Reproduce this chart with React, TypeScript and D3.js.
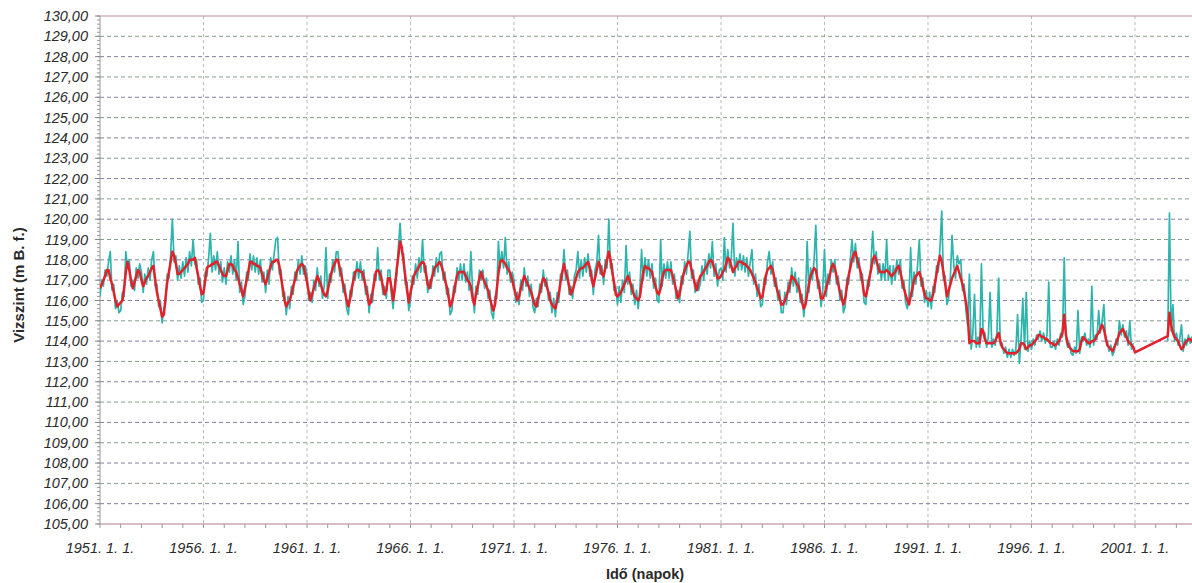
import * as d3 from "d3";

// monthly readings, 1951-01 .. 2001-01 (last value is Jan 2001)
const redLevels = [
  116.6, 116.8, 117.0, 117.2, 117.5, 117.5, 117.1, 116.8, 116.4, 116.0, 115.7, 115.8,
  115.9, 116.0, 116.6, 117.4, 117.9, 117.5, 117.0, 116.6, 116.9, 117.2, 117.5, 117.4,
  117.0, 116.7, 116.9, 117.1, 117.2, 117.4, 117.6, 117.7, 117.0, 116.4, 116.0, 115.6,
  115.2, 115.3, 116.1, 116.9, 117.4, 117.9, 118.4, 118.2, 117.8, 117.3, 117.3, 117.4,
  117.5, 117.6, 117.7, 117.8, 118.0, 118.0, 118.0, 118.1, 117.6, 117.2, 116.7, 116.3,
  116.4, 117.0, 117.6, 117.7, 117.7, 117.8, 117.8, 117.9, 117.9, 117.7, 117.5, 117.3,
  117.2, 117.2, 117.5, 117.8, 117.8, 117.7, 117.5, 117.4, 117.1, 116.8, 116.5, 116.2,
  116.6, 117.0, 117.4, 117.9, 117.9, 117.8, 117.8, 117.7, 117.7, 117.6, 117.3, 117.0,
  116.8, 117.1, 117.4, 117.7, 117.9, 117.9, 118.0, 118.0, 117.7, 117.1, 116.6, 116.0,
  115.7, 115.9, 116.0, 116.3, 116.7, 117.0, 117.4, 117.6, 117.7, 117.8, 117.7, 117.3,
  116.9, 116.4, 116.0, 116.3, 116.6, 116.9, 117.2, 117.0, 116.8, 116.5, 116.3, 116.2,
  116.5, 116.9, 117.3, 117.6, 117.8, 118.0, 118.0, 117.6, 117.2, 116.8, 116.4, 116.0,
  115.7, 116.1, 116.6, 117.0, 117.4, 117.5, 117.5, 117.4, 117.4, 117.1, 116.7, 116.3,
  115.8, 115.9, 116.4, 116.9, 117.4, 117.5, 117.4, 117.1, 116.7, 116.3, 116.5, 117.1,
  117.1, 116.6, 116.0, 116.6, 117.5, 118.2, 118.9, 118.6, 117.9, 117.2, 116.5, 115.9,
  116.4, 116.8, 117.2, 117.4, 117.5, 117.7, 117.8, 117.9, 117.8, 117.3, 116.8, 116.6,
  117.0, 117.3, 117.6, 117.7, 117.8, 117.9, 117.7, 117.4, 117.0, 116.7, 116.2, 115.7,
  115.9, 116.3, 116.8, 117.2, 117.4, 117.4, 117.4, 117.4, 117.2, 117.0, 116.9, 116.7,
  116.1, 115.8, 116.3, 116.7, 117.1, 117.4, 117.1, 116.9, 116.7, 116.5, 116.1, 115.8,
  115.5, 115.8, 116.5, 117.3, 117.9, 118.0, 117.9, 117.8, 117.6, 117.5, 117.3, 117.0,
  116.6, 116.3, 116.0, 116.2, 116.6, 116.9, 117.2, 117.0, 116.8, 116.6, 116.4, 116.1,
  115.8, 115.7, 116.1, 116.4, 116.8, 117.1, 117.0, 116.7, 116.4, 116.0, 115.8, 115.7,
  115.6, 116.0, 116.3, 116.9, 117.4, 117.8, 117.4, 117.1, 116.7, 116.3, 116.5, 116.8,
  117.1, 117.4, 117.5, 117.6, 117.6, 117.7, 117.8, 117.9, 117.6, 117.1, 116.7, 117.1,
  117.5, 117.9, 117.7, 117.3, 117.2, 117.6, 118.0, 118.4, 118.0, 117.4, 116.9, 116.3,
  116.2, 116.3, 116.4, 116.6, 116.8, 117.0, 117.2, 117.0, 116.7, 116.4, 116.2, 116.1,
  116.0, 116.2, 116.8, 117.4, 117.7, 117.6, 117.6, 117.5, 117.4, 117.0, 116.7, 116.4,
  116.3, 116.6, 117.1, 117.4, 117.5, 117.5, 117.5, 117.5, 117.2, 116.9, 116.5, 116.1,
  116.3, 116.8, 117.2, 117.5, 117.7, 117.9, 117.9, 117.5, 117.1, 116.8, 116.5, 116.9,
  117.2, 117.3, 117.4, 117.6, 117.7, 117.9, 118.0, 117.9, 117.6, 117.4, 117.1, 117.1,
  117.2, 117.4, 117.5, 117.8, 118.1, 118.0, 117.7, 117.4, 117.6, 117.7, 117.9, 117.9,
  117.9, 117.8, 117.8, 117.7, 117.6, 117.5, 117.3, 117.1, 116.9, 116.6, 116.4, 116.1,
  116.2, 116.7, 117.2, 117.5, 117.6, 117.7, 117.5, 117.1, 116.7, 116.4, 116.1, 115.8,
  115.8, 116.0, 116.2, 116.5, 116.8, 117.2, 117.1, 117.0, 116.8, 116.7, 116.3, 115.9,
  115.6, 115.8, 116.3, 116.8, 117.2, 117.4, 117.6, 117.5, 117.0, 116.6, 116.1, 116.1,
  116.3, 116.6, 116.9, 117.2, 117.6, 117.8, 117.6, 117.2, 116.8, 116.4, 116.1, 115.8,
  116.1, 116.7, 117.2, 117.6, 118.0, 118.3, 118.4, 118.0, 117.7, 117.4, 116.9, 116.3,
  116.2, 116.6, 117.1, 117.5, 118.0, 118.2, 118.0, 117.7, 117.4, 117.4, 117.4, 117.4,
  117.5, 117.4, 117.3, 117.2, 117.3, 117.4, 117.6, 117.7, 117.4, 117.0, 116.6, 116.3,
  116.0, 115.8, 116.2, 116.6, 117.0, 117.2, 117.3, 117.4, 117.1, 116.7, 116.3, 116.1,
  116.1, 116.0, 116.0, 116.3, 116.8, 117.3, 117.8, 118.2, 117.9, 117.4, 116.8, 116.2,
  116.5, 116.8, 117.1, 117.3, 117.5, 117.7, 117.4, 117.1, 116.8, 116.4, 115.9, 115.3,
  113.9, 114.0, 114.0, 114.0, 113.9, 113.9, 113.9, 114.6, 114.5, 114.1, 113.9, 113.9,
  113.9, 113.9, 113.9, 114.0, 114.2, 114.4, 114.0, 113.7, 113.6, 113.5, 113.4, 113.4,
  113.4, 113.4, 113.4, 113.4, 113.5, 113.6, 113.9, 113.9, 113.8, 113.6, 113.7, 113.8,
  113.8, 113.9, 114.0, 114.1, 114.3, 114.3, 114.2, 114.2, 114.1, 114.1, 114.0, 113.9,
  113.9, 113.8, 113.8, 113.9, 114.0, 114.2, 114.4, 115.3, 114.3, 113.9, 113.7, 113.6,
  113.5, 113.5, 113.5, 113.5, 113.6, 114.0, 114.2, 114.1, 114.0, 113.9, 113.9, 114.0,
  114.0, 114.1, 114.3, 114.4, 114.6, 114.8, 114.6, 114.2, 113.8, 113.7, 113.6, 113.5,
  113.7, 113.9, 114.1, 114.4, 114.5, 114.6, 114.4, 114.2, 114.0, 113.9, 113.8, 113.7,
  113.45,
];

// monthly readings, 1951-01 .. 2000-12
const cyanLevels = [
  116.2, 117.0, 116.7, 117.5, 117.2, 117.9, 118.4, 116.5, 116.8, 115.6, 116.0, 115.4,
  115.5, 116.4, 116.2, 118.4, 117.6, 118.0, 116.7, 117.0, 116.5, 117.6, 117.1, 117.8,
  117.4, 116.4, 117.3, 116.8, 117.6, 117.0, 118.0, 118.4, 116.7, 116.8, 115.7, 116.0,
  114.9, 115.6, 115.8, 117.3, 117.1, 118.3, 120.0, 117.9, 118.2, 117.0, 117.7, 117.1,
  117.9, 117.2, 118.1, 117.4, 118.4, 117.7, 119.0, 117.8, 118.0, 116.8, 117.1, 115.9,
  116.0, 117.4, 117.2, 118.1, 119.3, 117.4, 118.2, 117.5, 118.4, 117.3, 117.9, 116.9,
  117.6, 116.8, 117.9, 117.4, 118.2, 117.3, 118.0, 117.0, 118.9, 116.4, 116.9, 115.8,
  116.2, 117.4, 117.0, 118.3, 117.5, 118.2, 117.4, 118.1, 117.3, 118.0, 116.9, 117.4,
  116.4, 117.5, 116.8, 118.1, 117.5, 118.3, 119.0, 119.1, 117.3, 117.5, 116.2, 116.4,
  115.3, 116.2, 115.6, 116.7, 116.3, 117.4, 117.0, 118.0, 117.3, 118.2, 117.3, 117.7,
  117.3, 116.0, 116.4, 115.9, 117.0, 116.5, 117.6, 116.7, 117.2, 116.1, 116.7, 118.6,
  116.1, 117.3, 116.9, 118.0, 117.4, 118.4, 118.4, 117.2, 117.6, 116.4, 116.8, 115.6,
  115.3, 116.5, 116.2, 117.4, 117.0, 117.9, 117.1, 117.9, 117.0, 117.5, 116.3, 116.7,
  115.4, 116.3, 115.9, 117.3, 117.0, 118.6, 117.0, 117.5, 116.3, 116.7, 116.1, 117.5,
  117.5, 116.2, 115.6, 117.0, 117.2, 118.6, 119.8, 118.3, 118.3, 116.8, 116.9, 115.5,
  116.0, 117.2, 116.8, 117.8, 117.1, 118.1, 117.4, 119.0, 117.4, 117.7, 116.4, 117.0,
  116.6, 117.7, 117.2, 118.1, 117.4, 118.3, 118.4, 117.0, 117.4, 116.3, 116.6, 115.3,
  115.5, 116.7, 116.4, 117.6, 117.0, 117.8, 117.0, 117.8, 116.9, 117.4, 116.5, 118.4,
  116.5, 115.4, 116.7, 116.3, 117.5, 117.0, 117.5, 116.6, 117.1, 116.1, 116.5, 115.4,
  115.1, 116.2, 116.1, 118.9, 117.6, 118.4, 117.6, 119.1, 117.3, 117.9, 116.9, 117.4,
  117.0, 115.9, 116.4, 115.8, 117.0, 116.5, 117.6, 116.7, 117.2, 116.2, 116.8, 115.7,
  115.4, 116.1, 115.7, 116.8, 116.4, 117.5, 116.7, 117.1, 116.0, 116.4, 115.4, 116.1,
  115.2, 116.4, 115.9, 117.3, 117.0, 118.5, 117.0, 117.5, 116.3, 116.7, 116.1, 117.2,
  117.5, 118.4, 117.1, 118.0, 117.2, 118.1, 117.4, 118.3, 117.2, 117.5, 116.3, 117.5,
  117.9, 119.2, 117.3, 117.7, 116.8, 118.0, 117.6, 120.0, 117.6, 117.8, 116.5, 116.7,
  115.8, 116.7, 115.9, 117.0, 116.4, 118.7, 116.8, 117.4, 116.3, 116.8, 115.8, 116.5,
  115.6, 116.6, 118.5, 117.0, 118.1, 117.2, 118.0, 117.1, 117.8, 116.6, 117.1, 116.0,
  115.9, 119.0, 116.7, 117.8, 117.1, 117.9, 117.1, 117.9, 116.8, 117.3, 116.1, 116.5,
  115.9, 117.2, 116.8, 117.9, 117.3, 118.3, 119.4, 117.1, 117.5, 116.4, 116.9, 116.5,
  116.8, 117.7, 117.0, 118.0, 117.3, 118.3, 117.6, 118.9, 117.2, 117.8, 116.7, 117.5,
  117.6, 117.0, 119.1, 117.4, 118.5, 117.6, 118.1, 119.8, 117.2, 118.1, 117.5, 118.3,
  117.5, 118.2, 117.4, 118.1, 117.2, 117.9, 118.5, 116.8, 117.3, 116.2, 116.8, 115.7,
  115.8, 117.1, 116.8, 117.9, 118.4, 117.3, 117.9, 116.7, 117.1, 116.0, 116.5, 115.4,
  115.4, 116.4, 115.8, 116.9, 116.4, 117.6, 116.7, 117.4, 116.4, 117.1, 115.9, 116.3,
  115.2, 116.2, 118.9, 116.4, 117.6, 117.0, 118.0, 119.7, 116.6, 117.0, 115.7, 116.5,
  118.5, 116.2, 117.3, 116.8, 118.0, 117.4, 118.0, 116.8, 117.2, 116.0, 116.5, 115.4,
  115.7, 117.1, 116.8, 118.0, 119.0, 117.9, 118.8, 117.6, 118.1, 117.0, 117.3, 115.9,
  115.8, 117.0, 116.7, 117.9, 119.4, 117.8, 118.4, 117.3, 117.8, 117.0, 117.8, 117.0,
  119.0, 117.0, 117.7, 116.8, 117.7, 117.0, 118.0, 117.3, 118.0, 116.6, 117.0, 115.9,
  115.6, 116.2, 118.6, 116.2, 117.4, 116.8, 117.7, 119.0, 116.7, 117.1, 115.9, 116.5,
  115.7, 116.4, 115.6, 116.7, 116.4, 117.7, 117.4, 118.6, 120.4, 117.0, 117.2, 115.8,
  116.1, 117.2, 119.2, 117.7, 117.1, 118.2, 117.8, 118.0, 116.5, 116.8, 115.5, 114.8,
  117.3, 113.6, 114.3, 116.3, 113.7, 114.2, 113.7, 117.8, 114.3, 114.4, 113.7, 114.2,
  116.4, 113.7, 114.1, 113.8, 114.4, 117.1, 113.8, 113.9, 113.4, 113.7, 113.2, 113.6,
  113.2, 113.6, 113.3, 113.6, 115.3, 112.9, 114.1, 116.1, 113.6, 116.4, 113.5, 114.0,
  113.6, 114.1, 113.8, 114.3, 114.1, 114.5, 114.0, 114.4, 113.9, 114.3, 116.9, 113.7,
  113.7, 114.0, 113.6, 114.1, 113.8, 114.4, 114.2, 118.1, 114.1, 113.7, 113.9, 113.4,
  113.3, 113.7, 113.4, 115.5, 113.4, 114.2, 114.0, 114.4, 113.8, 114.1, 113.7, 116.7,
  113.8, 114.3, 114.1, 115.5, 114.4, 115.0, 115.8, 114.0, 114.0, 113.5, 113.8, 113.3,
  113.5, 114.1, 113.8, 115.0, 114.3, 114.8, 114.2, 114.5, 113.8, 115.0, 113.6, 113.9,
];

// monthly readings after the data gap, 2002-08 .. 2003-12
const redLate = [
  114.25, 115.4, 114.8, 114.4, 114.2, 114.1, 114.0, 113.8, 113.6, 113.7, 113.9, 114.0,
  114.1, 114.1, 114.0, 113.9, 113.9,
];
const cyanLate = [
  114.0, 120.3, 114.5, 115.8, 114.0, 114.4, 113.8, 114.1, 114.8, 113.5, 114.1, 113.8,
  114.3, 113.9, 114.2, 113.7, 114.1,
];

const startMain = new Date(1951, 0, 1);
const startLate = new Date(2002, 7, 1);
const labelYears = [1951, 1956, 1961, 1966, 1971, 1976, 1981, 1986, 1991, 1996, 2001];

const W = 1192;
const H = 583;
const left = 100;
const top = 16;
const bottom = 524;

type Pt = { d: Date; v: number };

const toPoints = (start: Date, values: number[]): Pt[] =>
  values.map((v, i) => ({ d: d3.timeMonth.offset(start, i), v }));

export default function App() {
  const x = d3
    .scaleTime()
    .domain([new Date(1951, 0, 1), new Date(2001, 0, 1)])
    .range([left, 1135]);
  const y = d3.scaleLinear().domain([105, 130]).range([bottom, top]);

  const line = d3
    .line<Pt>()
    .x((p) => x(p.d))
    .y((p) => y(p.v));

  const redPts = [...toPoints(startMain, redLevels), ...toPoints(startLate, redLate)];
  const cyanMain = toPoints(startMain, cyanLevels);
  const cyanTail = toPoints(startLate, cyanLate);

  const majorY = d3.range(105, 131, 1);
  const minorY = d3.range(0, 126).map((i) => 105 + i * 0.2);
  const yearTicks = d3.timeYear.range(new Date(1951, 0, 1), new Date(2004, 0, 1));
  const fmt = d3.format(".2f");

  return (
    <svg
      width={W}
      height={H}
      style={{ position: "absolute", left: 0, top: 0, display: "block", background: "#fff" }}
    >
      <defs>
        <clipPath id="plot">
          <rect x={left} y={top} width={W - left} height={bottom - top} />
        </clipPath>
      </defs>

      {/* vertical grid */}
      {labelYears.slice(1).map((yr) => (
        <line
          key={"vg" + yr}
          x1={x(new Date(yr, 0, 1))}
          x2={x(new Date(yr, 0, 1))}
          y1={top}
          y2={bottom}
          stroke="#b8b8b8"
          strokeDasharray="3,3"
        />
      ))}

      {/* horizontal grid */}
      {majorY
        .filter((v) => v > 105 && v < 130)
        .map((v) => (
          <line
            key={"hg" + v}
            x1={left}
            x2={W}
            y1={y(v)}
            y2={y(v)}
            stroke={v % 2 === 0 ? "#877c9f" : "#889d8c"}
            strokeDasharray="4,3"
          />
        ))}

      {/* frame */}
      <line x1={left} x2={W} y1={y(130)} y2={y(130)} stroke="#c48a9c" strokeWidth={1.2} />
      <line x1={left} x2={W} y1={y(105)} y2={y(105)} stroke="#b07a88" strokeWidth={1.2} />
      <line x1={left} x2={left} y1={top} y2={bottom} stroke="#999" />

      {/* data */}
      <g clipPath="url(#plot)" fill="none" strokeLinejoin="round">
        <path d={line(cyanMain) ?? ""} stroke="#2db5ad" strokeWidth={1.7} />
        <path d={line(cyanTail) ?? ""} stroke="#2db5ad" strokeWidth={1.7} />
        <path d={line(redPts) ?? ""} stroke="#e3212b" strokeWidth={2.5} />
      </g>

      {/* y axis ticks + labels */}
      {minorY.map((v, i) => (
        <line key={"my" + i} x1={left - 3} x2={left} y1={y(v)} y2={y(v)} stroke="#999" />
      ))}
      {majorY.map((v) => (
        <g key={"ly" + v}>
          <line x1={left - 5} x2={left} y1={y(v)} y2={y(v)} stroke="#888" />
          <text
            x={88}
            y={y(v)}
            dy="0.35em"
            textAnchor="end"
            fontFamily="Liberation Sans, Arial, sans-serif"
            fontStyle="italic"
            fontSize={14.5}
            fill="#2a2a2a"
          >
            {fmt(v).replace(".", ",")}
          </text>
        </g>
      ))}

      {/* x axis ticks + labels */}
      {yearTicks.map((d, i) => (
        <line key={"xt" + i} x1={x(d)} x2={x(d)} y1={bottom} y2={bottom + 4} stroke="#999" />
      ))}
      {labelYears.map((yr) => (
        <text
          key={"lx" + yr}
          x={x(new Date(yr, 0, 1))}
          y={553}
          textAnchor="middle"
          fontFamily="Liberation Sans, Arial, sans-serif"
          fontStyle="italic"
          fontSize={14.5}
          fill="#2a2a2a"
        >
          {`${yr}. 1. 1.`}
        </text>
      ))}

      {/* axis titles */}
      <text
        x={645}
        y={579}
        textAnchor="middle"
        fontFamily="Liberation Sans, Arial, sans-serif"
        fontWeight="bold"
        fontSize={14.5}
        fill="#2a2a2a"
      >
        Idő (napok)
      </text>
      <text
        transform="translate(24,285) rotate(-90)"
        textAnchor="middle"
        fontFamily="Liberation Sans, Arial, sans-serif"
        fontWeight="bold"
        fontSize={15}
        fill="#2a2a2a"
      >
        Vizszint (m B. f.)
      </text>
    </svg>
  );
}
